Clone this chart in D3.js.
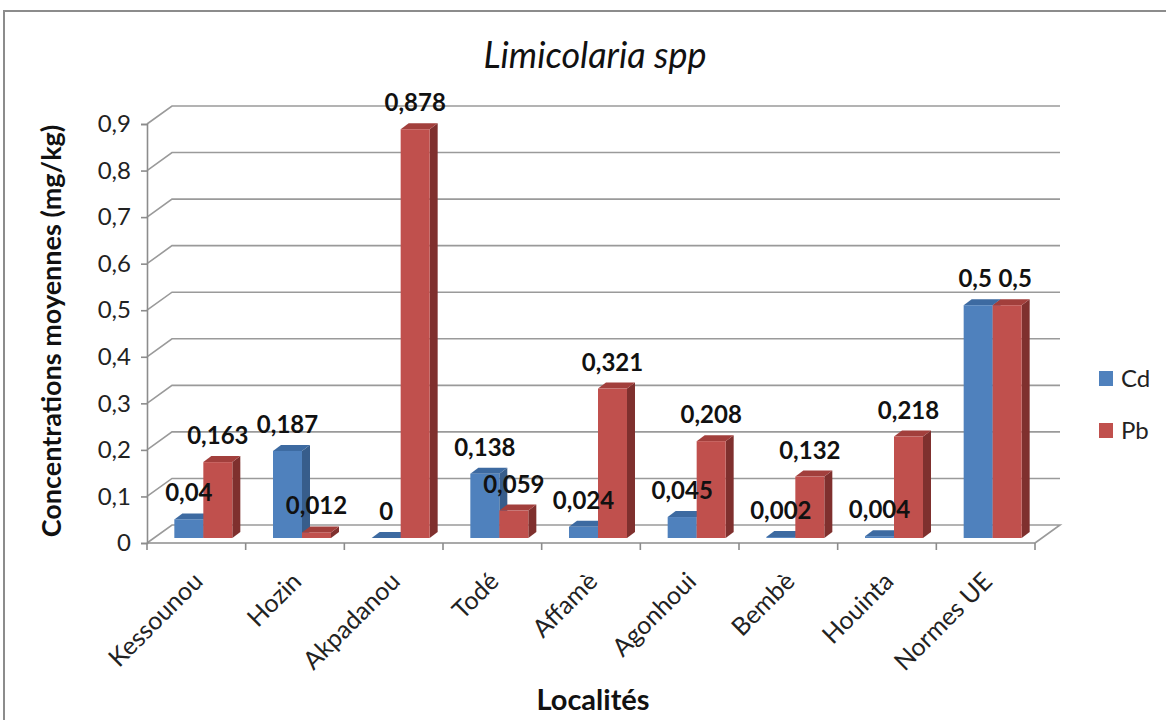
<!DOCTYPE html>
<html>
<head>
<meta charset="utf-8">
<script src="https://d3js.org/d3.v7.min.js"></script>
<style>
  body { margin: 0; background: #fff; }
  svg { display: block; font-family: Lato, "Open Sans", sans-serif; }
</style>
</head>
<body>
<svg width="1166" height="720"></svg>
<script>
// chart data
var categories = ["Kessounou", "Hozin", "Akpadanou", "Todé", "Affamè", "Agonhoui", "Bembè", "Houinta", "Normes UE"];
var cdValues = [0.04, 0.187, 0, 0.138, 0.024, 0.045, 0.002, 0.004, 0.5];
var pbValues = [0.163, 0.012, 0.878, 0.059, 0.321, 0.208, 0.132, 0.218, 0.5];
var seriesNames = ["Cd", "Pb"];
var yTicks = [0, 0.1, 0.2, 0.3, 0.4, 0.5, 0.6, 0.7, 0.8, 0.9];

var svg = d3.select("svg");
var fmt = function(v) { return String(v).replace(".", ","); };

// front plane of the 3d box + depth offset
var plotLeft = 147, plotRight = 1035, plotBottom = 543, plotTop = 124;
var depth = [25, -18];

var x = d3.scaleBand().domain(categories).range([plotLeft, plotRight]);
var y = d3.scaleLinear().domain([0, 0.9]).range([plotBottom, plotTop]);

// outer frame
svg.append("rect")
  .attr("x", 4).attr("y", 11).attr("width", 1170).attr("height", 720)
  .attr("fill", "none").attr("stroke", "#8c8c8c").attr("stroke-width", 2);

// back wall gridlines + left wall diagonals
var grid = svg.append("g").attr("stroke", "#9a9a9a").attr("stroke-width", 1.6).attr("fill", "none");
yTicks.forEach(function(t) {
  if (t > 0) {
    grid.append("path").attr("d",
      "M" + plotLeft + "," + y(t) + "L" + (plotLeft + depth[0]) + "," + (y(t) + depth[1]) +
      "L" + (plotRight + depth[0]) + "," + (y(t) + depth[1]));
  }
});
// floor
grid.append("path").attr("d",
  "M" + plotLeft + "," + plotBottom + "L" + (plotLeft + depth[0]) + "," + (plotBottom + depth[1]) +
  "L" + (plotRight + depth[0]) + "," + (plotBottom + depth[1]) + "L" + plotRight + "," + plotBottom);

// y axis
var yAxis = d3.axisLeft(y).tickValues(yTicks).tickFormat(fmt).tickSize(6).tickPadding(10);
var gy = svg.append("g").attr("transform", "translate(" + plotLeft + ",0)").call(yAxis);
gy.select(".domain").attr("stroke", "#8c8c8c").attr("stroke-width", 1.6);
gy.selectAll(".tick line").attr("stroke", "#8c8c8c").attr("stroke-width", 1.6);
gy.selectAll(".tick text").attr("font-size", 24).attr("fill", "#222").attr("font-family", "Lato, sans-serif");

// x axis with boundary ticks
var gx = svg.append("g").attr("transform", "translate(0," + plotBottom + ")");
gx.append("line").attr("x1", plotLeft).attr("x2", plotRight).attr("stroke", "#8c8c8c").attr("stroke-width", 1.6);
d3.range(categories.length + 1).forEach(function(i) {
  var xx = plotLeft + i * x.bandwidth();
  gx.append("line").attr("x1", xx).attr("x2", xx).attr("y1", 0).attr("y2", 7)
    .attr("stroke", "#8c8c8c").attr("stroke-width", 1.6);
});
gx.selectAll("text.cat").data(categories).enter().append("text")
  .attr("class", "cat")
  .attr("text-anchor", "end")
  .attr("font-size", 25).attr("fill", "#222")
  .attr("transform", function(d) {
    return "translate(" + (x(d) + x.bandwidth() / 2 + 8) + ",40) rotate(-45)";
  })
  .text(function(d) { return d; });

// 3d bars
var colors = {
  Cd: { front: "#4f81bd", top: "#3d6aa1", side: "#375d8b" },
  Pb: { front: "#c0504d", top: "#a23f3c", side: "#7f302e" }
};
var barW = 29, shift = [7, -5], bd = [8, -6];
var bars = [];
categories.forEach(function(c, i) {
  var cx = x(c) + x.bandwidth() / 2 + shift[0];
  // labels of equal height are pushed apart so they do not touch
  var clash = Math.abs(y(cdValues[i]) - y(pbValues[i])) < 20;
  bars.push({ s: "Cd", v: cdValues[i], x0: cx - barW, dx: clash ? -3 : 0 });
  bars.push({ s: "Pb", v: pbValues[i], x0: cx, dx: clash ? 8 : 0 });
});

var gb = svg.append("g");
bars.forEach(function(b) {
  var yb = y(0) + shift[1], yt = y(b.v) + shift[1];
  var x0 = b.x0, x1 = b.x0 + barW;
  var col = colors[b.s];
  var g = gb.append("g");
  // side
  g.append("path").attr("fill", col.side).attr("d",
    "M" + x1 + "," + yb + "L" + (x1 + bd[0]) + "," + (yb + bd[1]) +
    "L" + (x1 + bd[0]) + "," + (yt + bd[1]) + "L" + x1 + "," + yt + "Z");
  // top
  g.append("path").attr("fill", col.top).attr("d",
    "M" + x0 + "," + yt + "L" + x1 + "," + yt + "L" + (x1 + bd[0]) + "," + (yt + bd[1]) +
    "L" + (x0 + bd[0]) + "," + (yt + bd[1]) + "Z");
  // front
  if (b.v > 0) {
    g.append("rect").attr("fill", col.front)
      .attr("x", x0).attr("y", yt).attr("width", barW).attr("height", yb - yt);
  }
});

// data labels
svg.append("g").selectAll("text").data(bars).enter().append("text")
  .attr("x", function(b) { return b.x0 + barW / 2 + b.dx; })
  .attr("y", function(b) { return y(b.v) + shift[1] - 18; })
  .attr("text-anchor", "middle")
  .attr("font-size", 24).attr("font-weight", "bold").attr("fill", "#111")
  .text(function(b) { return fmt(b.v); });

// titles
svg.append("text").attr("x", 595).attr("y", 68).attr("text-anchor", "middle")
  .attr("font-size", 36).attr("font-style", "italic").attr("fill", "#111")
  .text("Limicolaria spp");

svg.append("text").attr("transform", "translate(61,331) rotate(-90)")
  .attr("text-anchor", "middle").attr("font-size", 27).attr("font-weight", "bold").attr("fill", "#111")
  .text("Concentrations moyennes (mg/kg)");

svg.append("text").attr("x", 593).attr("y", 710).attr("text-anchor", "middle")
  .attr("font-size", 29).attr("font-weight", "bold").attr("fill", "#111")
  .text("Localités");

// legend
var lg = svg.append("g").attr("transform", "translate(1099,371)");
seriesNames.forEach(function(s, i) {
  lg.append("rect").attr("x", 0).attr("y", i * 52).attr("width", 14).attr("height", 15)
    .attr("fill", colors[s].front);
  lg.append("text").attr("x", 22).attr("y", i * 52 + 16).attr("font-size", 24).attr("fill", "#222")
    .text(s);
});
</script>
</body>
</html>
